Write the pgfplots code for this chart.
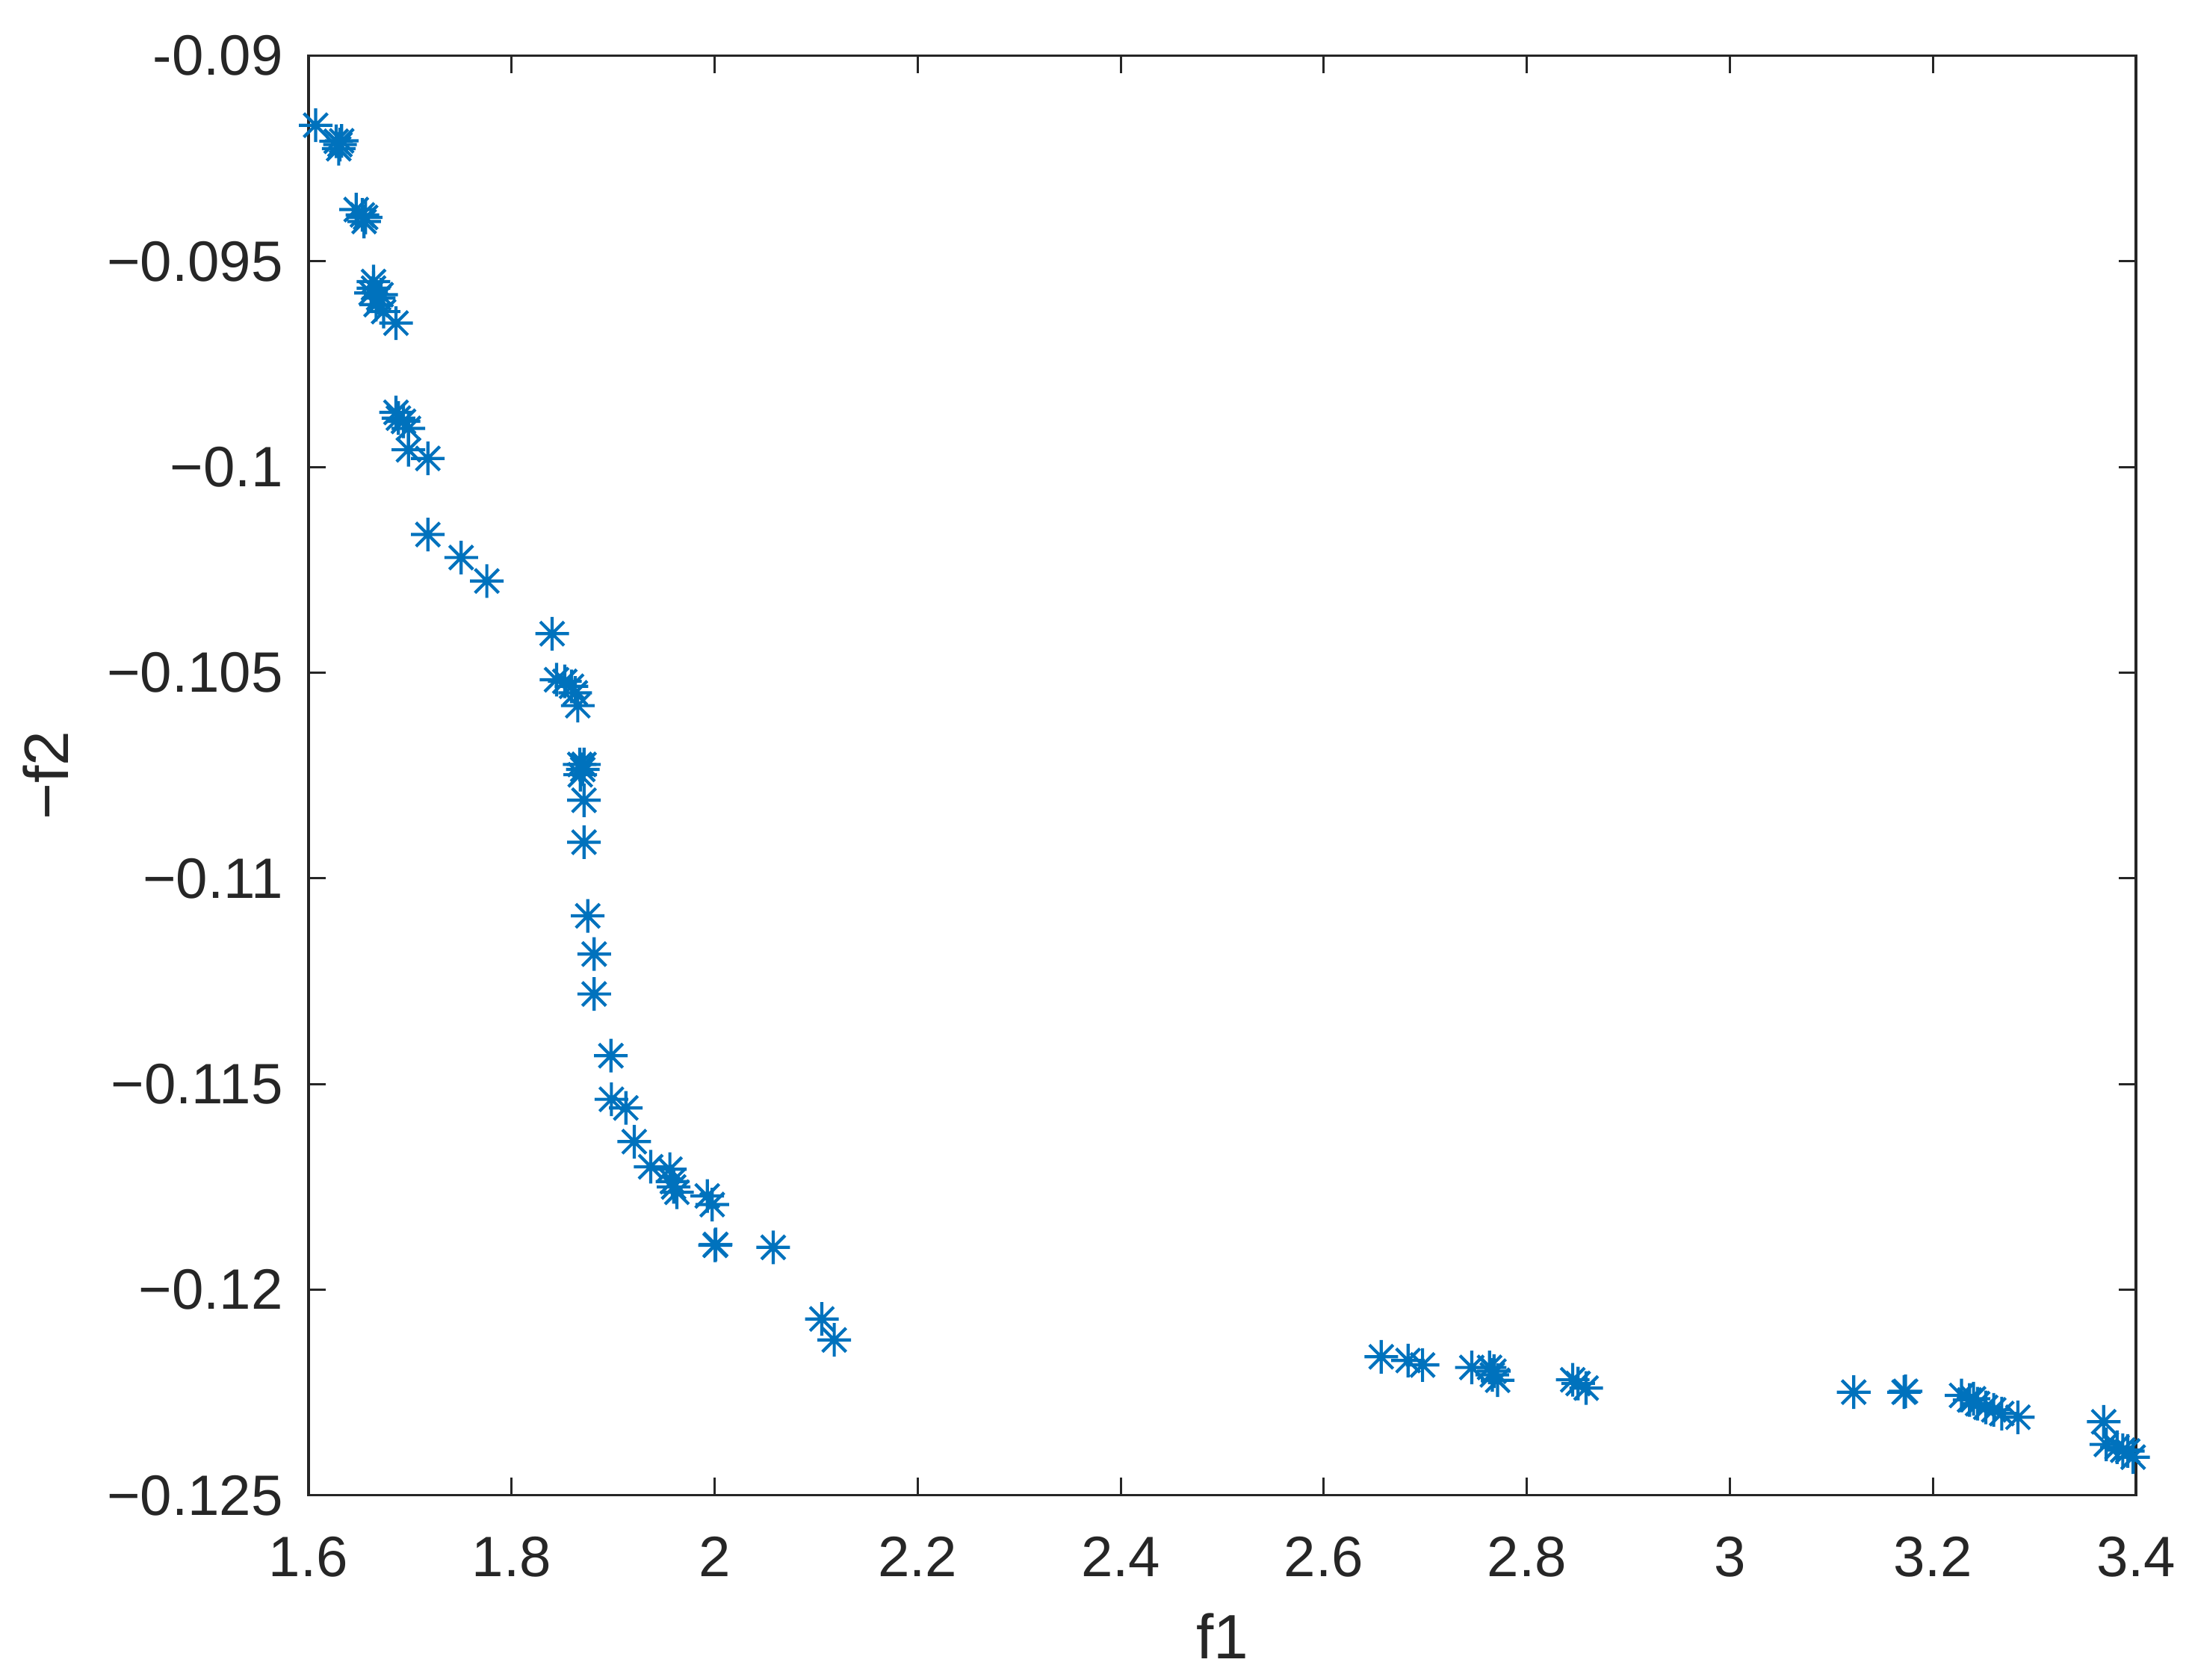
\documentclass[border=0pt]{standalone}
\usepackage{fontspec}
\setmainfont{Liberation Sans}
\usepackage{pgfplots}
\pgfplotsset{compat=1.18}

\definecolor{mblue}{RGB}{0,114,189}
\definecolor{axgray}{RGB}{38,38,38}

% MATLAB-style '*' marker: + and x laid over each other
\pgfdeclareplotmark{mstar}{%
  \pgfpathmoveto{\pgfqpoint{-\pgfplotmarksize}{0pt}}%
  \pgfpathlineto{\pgfqpoint{\pgfplotmarksize}{0pt}}%
  \pgfpathmoveto{\pgfqpoint{0pt}{-\pgfplotmarksize}}%
  \pgfpathlineto{\pgfqpoint{0pt}{\pgfplotmarksize}}%
  \pgfpathmoveto{\pgfqpoint{-.7071\pgfplotmarksize}{-.7071\pgfplotmarksize}}%
  \pgfpathlineto{\pgfqpoint{.7071\pgfplotmarksize}{.7071\pgfplotmarksize}}%
  \pgfpathmoveto{\pgfqpoint{-.7071\pgfplotmarksize}{.7071\pgfplotmarksize}}%
  \pgfpathlineto{\pgfqpoint{.7071\pgfplotmarksize}{-.7071\pgfplotmarksize}}%
  \pgfusepathqstroke}

\begin{document}
\begin{tikzpicture}
\begin{axis}[
    scale only axis,
    width=11.27cm,
    height=8.88cm,
    xmin=1.6, xmax=3.4,
    ymin=-0.125, ymax=-0.09,
    xtick={1.6,1.8,2,2.2,2.4,2.6,2.8,3,3.2,3.4},
    xticklabels={1.6,1.8,2,2.2,2.4,2.6,2.8,3,3.2,3.4},
    ytick={-0.125,-0.12,-0.115,-0.11,-0.105,-0.1,-0.095,-0.09},
    yticklabels={−0.125,−0.12,−0.115,−0.11,−0.105,−0.1,−0.095,-0.09},
    tick align=inside,
    major tick length=0.108cm,
    axis line style={axgray, line width=0.4pt},
    every tick/.style={axgray, line width=0.4pt},
    tick label style={font=\fontsize{10}{12}\selectfont, text=axgray, inner sep=0pt},
    xticklabel style={anchor=north, yshift=-0.249cm},
    yticklabel style={anchor=east, xshift=-0.152cm},
    xlabel={f1},
    ylabel={−f2},
    label style={font=\fontsize{11}{13}\selectfont, text=axgray, inner sep=0pt},
    xlabel style={at={(axis description cs:0.5,-0.0811)}, anchor=north},
    ylabel style={at={(axis description cs:-0.144,0.5)}, anchor=center},
]
\addplot[only marks, mark=mstar, mark size=2.95pt,
         mark options={draw=mblue, line width=0.55pt}] coordinates {
    (1.607,-0.09169)
    (1.6272,-0.09208) (1.6309,-0.09216) (1.6326,-0.09207) (1.6297,-0.09226)
    (1.6469,-0.09374) (1.6530,-0.09387) (1.6547,-0.09403) (1.6562,-0.09393)
    (1.6640,-0.09549) (1.6616,-0.09577) (1.6640,-0.09565) (1.6690,-0.09589)
    (1.6665,-0.09605) (1.6739,-0.09622) (1.6861,-0.09650) (1.6714,-0.09581)
    (1.6861,-0.09867) (1.6885,-0.09881) (1.6935,-0.09889) (1.6984,-0.09906)
    (1.6984,-0.09958) (1.7175,-0.09979)
    (1.7175,-0.10164) (1.7503,-0.10220) (1.7756,-0.10277)
    (1.8399,-0.10405)
    (1.8443,-0.10517) (1.8524,-0.10521) (1.8590,-0.10533) (1.8627,-0.10549)
    (1.8652,-0.10580)
    (1.8671,-0.10723) (1.8701,-0.10735) (1.8713,-0.10723) (1.8676,-0.10748)
    (1.8713,-0.10810) (1.8713,-0.10912)
    (1.8750,-0.11091) (1.8813,-0.11184) (1.8813,-0.11281)
    (1.8978,-0.11431)
    (1.8983,-0.11537) (1.9125,-0.11558) (1.9208,-0.11640)
    (1.9370,-0.11701) (1.9559,-0.11707) (1.9584,-0.11737) (1.9596,-0.11750)
    (1.9628,-0.11763) (1.9927,-0.11772) (1.9976,-0.11793)
    (2.0005,-0.11892) (2.0010,-0.11890) (2.0577,-0.11897)
    (2.1056,-0.12071) (2.1178,-0.12122)
    (2.6566,-0.12163) (2.6830,-0.12172) (2.6973,-0.12183)
    (2.7458,-0.12189) (2.7633,-0.12189) (2.7676,-0.12198) (2.7660,-0.12207)
    (2.7712,-0.12220)
    (2.8452,-0.12219) (2.8505,-0.12228) (2.8584,-0.12239)
    (3.1220,-0.12249) (3.1716,-0.12249) (3.1730,-0.12247)
    (3.2282,-0.12257) (3.2361,-0.12268) (3.2400,-0.12265) (3.2440,-0.12277)
    (3.2520,-0.12286) (3.2599,-0.12292) (3.2678,-0.12301) (3.2837,-0.12310)
    (3.3682,-0.12321) (3.3708,-0.12376) (3.3814,-0.12383) (3.3870,-0.12390)
    (3.3919,-0.12392) (3.3972,-0.12407)
};
\end{axis}
\pgfresetboundingbox
\path[use as bounding box]
    ([xshift=-1.903cm, yshift=-1.137cm]current axis.south west)
    rectangle ([xshift=0.327cm, yshift=0.344cm]current axis.north east);
\end{tikzpicture}
\end{document}
